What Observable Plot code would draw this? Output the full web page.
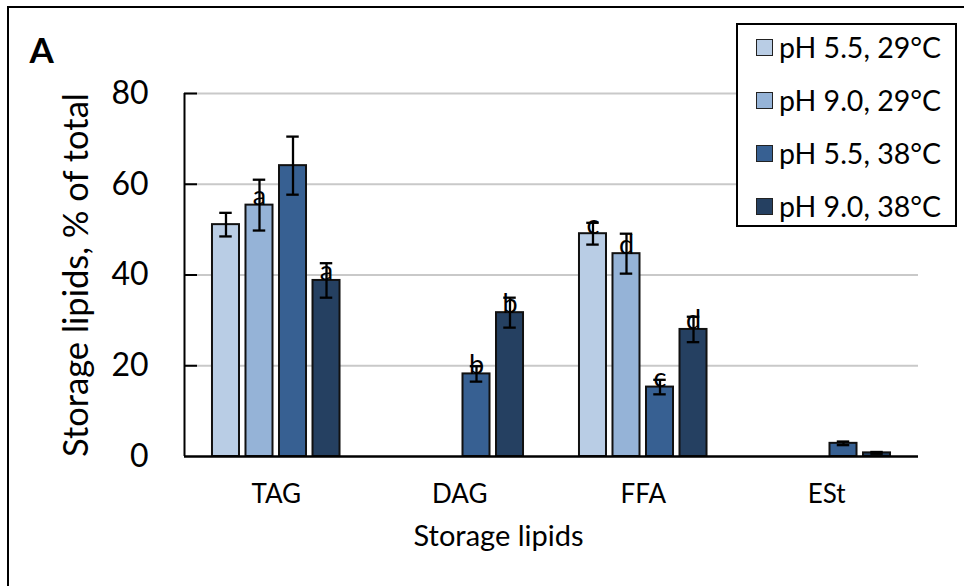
<!DOCTYPE html>
<html><head><meta charset="utf-8">
<script src="https://cdn.jsdelivr.net/npm/d3@7"></script>
<script src="https://cdn.jsdelivr.net/npm/@observablehq/plot@0.6"></script>
<style>
html,body{margin:0;padding:0;background:#fff;overflow:hidden;}
#wrap{position:relative;width:964px;height:586px;font-family:Lato,sans-serif;}
#border{position:absolute;left:7px;top:6px;width:2000px;height:2000px;border-left:2px solid #000;border-top:2px solid #000;pointer-events:none;}
#legend{position:absolute;left:736px;top:23px;width:217px;height:200px;border:2px solid #000;background:#fff;}
.row{position:absolute;left:18px;height:30px;display:flex;align-items:center;font-size:28.5px;color:#000;white-space:nowrap;}
.sw{width:15px;height:15px;border:1.5px solid #222;margin-right:6px;flex:none;}
</style></head>
<body><div id="wrap"><div id="border"></div></div>
<script>
const categories = ["TAG", "DAG", "FFA", "ESt"];
const series = ["pH 5.5, 29°C", "pH 9.0, 29°C", "pH 5.5, 38°C", "pH 9.0, 38°C"];
const colors = ["#b9cde5", "#95b3d7", "#376092", "#254061"];
const values = [
  [51.1, null, 49.1, null],
  [55.4, null, 44.7, null],
  [64.1, 18.2, 15.3, 2.9],
  [38.8, 31.7, 28.0, 0.8]
];
const errors = [
  [2.6, null, 2.4, null],
  [5.6, null, 4.4, null],
  [6.4, 1.7, 1.6, 0.4],
  [3.8, 3.3, 2.8, 0.2]
];
const letters = [
  ["", "", "c", ""],
  ["a", "", "d", ""],
  ["", "b", "c", ""],
  ["a", "b", "d", ""]
];
const yTicks = [0, 20, 40, 60, 80];
const yTitle = "Storage lipids, % of total";
const xTitle = "Storage lipids";
const panelLabel = "A";

// layout constants (category units)
const groupStep = 0.1826, barHalf = 0.0736, capHalf = 0.034;

const rows = [];
series.forEach((s, si) => categories.forEach((c, ci) => {
  const v = values[si][ci];
  if (v == null) return;
  rows.push({series: s, category: c, si, ci, value: v, err: errors[si][ci], letter: letters[si][ci],
    cx: ci + (si - 1.5) * groupStep});
}));

const chart = Plot.plot({
  width: 964, height: 586,
  marginTop: 93, marginBottom: 130, marginLeft: 184, marginRight: 46,
  style: {fontFamily: "Lato, sans-serif", background: "#fff", color: "#000"},
  x: {domain: [-0.5, 3.5], axis: null},
  y: {domain: [0, 80], axis: null},
  color: {domain: series, range: colors},
  marks: [
    Plot.ruleY(yTicks.filter(v => v > 0), {stroke: "#c9c9c9", strokeWidth: 2}),
    Plot.ruleY(yTicks.filter(v => v > 0), {stroke: "#000", strokeWidth: 2, insetRight: 734 - 13}),
    Plot.ruleX([-0.5], {stroke: "#000", strokeWidth: 2}),
    Plot.rectY(rows, {x1: d => d.cx - barHalf, x2: d => d.cx + barHalf, y1: 0, y2: "value",
      fill: "series", stroke: "#111", strokeWidth: 2}),
    Plot.ruleY([0], {stroke: "#000", strokeWidth: 2.5}),
    Plot.ruleX(rows, {x: "cx", y1: d => d.value - d.err, y2: d => d.value + d.err, stroke: "#000", strokeWidth: 2.3}),
    Plot.ruleY(rows, {y: d => d.value + d.err, x1: d => d.cx - capHalf, x2: d => d.cx + capHalf, stroke: "#000", strokeWidth: 2.3}),
    Plot.ruleY(rows, {y: d => d.value - d.err, x1: d => d.cx - capHalf, x2: d => d.cx + capHalf, stroke: "#000", strokeWidth: 2.3}),
    Plot.text(rows.filter(d => d.letter), {x: "cx", y: "value", text: "letter", lineAnchor: "bottom",
      fontSize: 27, fill: "#000"}),
    Plot.axisY({ticks: yTicks, tickSize: 0, tickPadding: 36, fontSize: 32, label: null}),
    Plot.axisX({ticks: [0, 1, 2, 3], tickFormat: i => categories[i], tickSize: 0, tickPadding: 28, fontSize: 26, label: null}),
    Plot.text([yTitle], {text: d => d, frameAnchor: "left", textAnchor: "middle", lineAnchor: "middle",
      dx: -108, rotate: -90, fontSize: 34.5, fill: "#000"}),
    Plot.text([xTitle], {text: d => d, frameAnchor: "bottom", textAnchor: "middle", dx: -53, dy: 89, fontSize: 29, fill: "#000"}),
    Plot.text([panelLabel], {text: d => d, frameAnchor: "top-left", dx: -155, dy: -31, textAnchor: "start",
      lineAnchor: "bottom", fontSize: 35, fontWeight: "bold", fill: "#000"})
  ]
});
const wrap = document.getElementById("wrap");
wrap.insertBefore(chart, wrap.firstChild);

const legend = document.createElement("div");
legend.id = "legend";
const rowCenters = [22, 75, 128, 181];
series.forEach((s, i) => {
  const r = document.createElement("div");
  r.className = "row";
  r.style.top = (rowCenters[i] - 15) + "px";
  const sw = document.createElement("div");
  sw.className = "sw";
  sw.style.background = colors[i];
  r.appendChild(sw);
  const t = document.createElement("span");
  t.textContent = s;
  r.appendChild(t);
  legend.appendChild(r);
});
wrap.appendChild(legend);
</script>
</body></html>
